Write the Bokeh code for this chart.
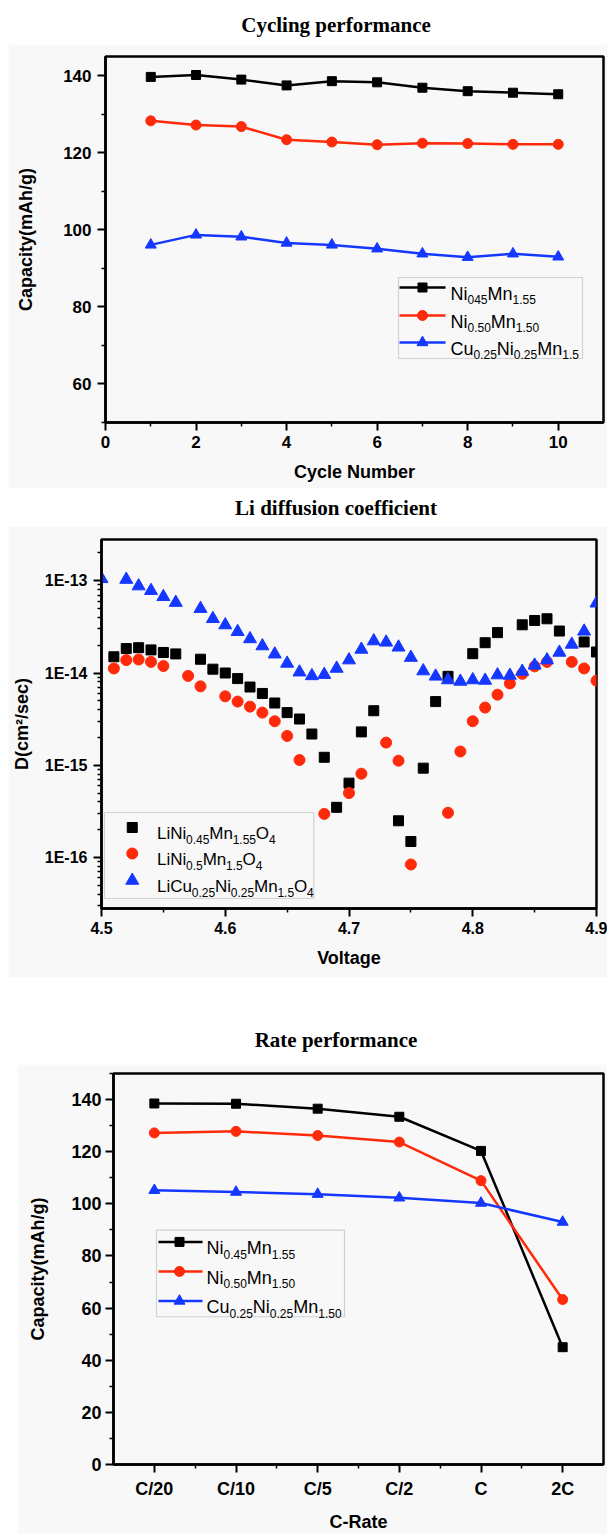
import math
from bokeh.plotting import figure
from bokeh.layouts import column, row
from bokeh.models import Range1d, FixedTicker, CustomJSTickFormatter, Spacer, BoxAnnotation
from bokeh.core.properties import value
from bokeh.embed import file_html
from bokeh.resources import INLINE

# ---------------- data ----------------
# Cycling performance
cycles = [1, 2, 3, 4, 5, 6, 7, 8, 9, 10]
cyc_ni045 = [139.7, 140.2, 139.0, 137.5, 138.6, 138.3, 136.9, 136.0, 135.6, 135.2]
cyc_ni050 = [128.3, 127.2, 126.8, 123.4, 122.8, 122.1, 122.5, 122.4, 122.2, 122.2]
cyc_cu = [96.1, 98.7, 98.2, 96.6, 96.1, 95.1, 93.8, 92.9, 93.8, 93.0]
cyc_labels = [
    [("Ni", 0), ("045", 1), ("Mn", 0), ("1.55", 1)],
    [("Ni", 0), ("0.50", 1), ("Mn", 0), ("1.50", 1)],
    [("Cu", 0), ("0.25", 1), ("Ni", 0), ("0.25", 1), ("Mn", 0), ("1.5", 1)],
]

# Li diffusion coefficient
v_ni045 = [4.51, 4.52, 4.53, 4.54, 4.55, 4.56, 4.58, 4.59, 4.60, 4.61, 4.62, 4.63, 4.64, 4.65,
           4.66, 4.67, 4.68, 4.69, 4.70, 4.71, 4.72, 4.74, 4.75, 4.76, 4.77, 4.78, 4.80, 4.81,
           4.82, 4.84, 4.85, 4.86, 4.87, 4.89, 4.90]
d_ni045 = [1.5e-14, 1.84e-14, 1.88e-14, 1.78e-14, 1.67e-14, 1.61e-14, 1.41e-14, 1.10e-14, 1.0e-14,
           8.7e-15, 7.05e-15, 6.0e-15, 4.73e-15, 3.72e-15, 3.17e-15, 2.18e-15, 1.22e-15, 3.5e-16,
           6.4e-16, 2.3e-15, 3.9e-15, 2.5e-16, 1.49e-16, 9.3e-16, 4.9e-15, 9.2e-15, 1.62e-14,
           2.13e-14, 2.74e-14, 3.33e-14, 3.71e-14, 3.87e-14, 2.85e-14, 2.17e-14, 1.69e-14]
v_ni050 = [4.51, 4.52, 4.53, 4.54, 4.55, 4.57, 4.58, 4.60, 4.61, 4.62, 4.63, 4.64, 4.65, 4.66,
           4.68, 4.70, 4.71, 4.73, 4.74, 4.75, 4.78, 4.79, 4.80, 4.81, 4.82, 4.83, 4.84, 4.85,
           4.86, 4.88, 4.89, 4.90]
d_ni050 = [1.12e-14, 1.38e-14, 1.40e-14, 1.32e-14, 1.19e-14, 9.3e-15, 7.17e-15, 5.59e-15, 4.9e-15,
           4.32e-15, 3.72e-15, 3.0e-15, 2.08e-15, 1.14e-15, 2.97e-16, 5.0e-16, 8.1e-16, 1.76e-15,
           1.12e-15, 8.4e-17, 3.05e-16, 1.41e-15, 3.0e-15, 4.22e-15, 5.82e-15, 7.7e-15, 9.8e-15,
           1.18e-14, 1.32e-14, 1.32e-14, 1.12e-14, 8.26e-15]
v_cu = [4.50, 4.52, 4.53, 4.54, 4.55, 4.56, 4.58, 4.59, 4.60, 4.61, 4.62, 4.63, 4.64, 4.65,
        4.66, 4.67, 4.68, 4.69, 4.70, 4.71, 4.72, 4.73, 4.74, 4.75, 4.76, 4.77, 4.78, 4.79,
        4.80, 4.81, 4.82, 4.83, 4.84, 4.85, 4.86, 4.87, 4.88, 4.89, 4.90]
d_cu = [1.05e-13, 1.03e-13, 8.75e-14, 7.8e-14, 6.7e-14, 5.8e-14, 4.98e-14, 3.87e-14, 3.31e-14,
        2.8e-14, 2.34e-14, 1.96e-14, 1.6e-14, 1.27e-14, 1.02e-14, 9.3e-15, 9.6e-15, 1.12e-14,
        1.38e-14, 1.8e-14, 2.22e-14, 2.15e-14, 1.9e-14, 1.47e-14, 1.05e-14, 9.2e-15, 8.4e-15,
        8.1e-15, 8.4e-15, 8.3e-15, 9.5e-15, 9.4e-15, 1.04e-14, 1.21e-14, 1.38e-14, 1.67e-14,
        2.04e-14, 2.83e-14, 5.7e-14]
dif_labels = [
    [("LiNi", 0), ("0.45", 1), ("Mn", 0), ("1.55", 1), ("O", 0), ("4", 1)],
    [("LiNi", 0), ("0.5", 1), ("Mn", 0), ("1.5", 1), ("O", 0), ("4", 1)],
    [("LiCu", 0), ("0.25", 1), ("Ni", 0), ("0.25", 1), ("Mn", 0), ("1.5", 1), ("O", 0), ("4", 1)],
]

# Rate performance
rates = ["C/20", "C/10", "C/5", "C/2", "C", "2C"]
rate_ni045 = [138.5, 138.4, 136.5, 133.4, 120.3, 45.0]
rate_ni050 = [127.2, 127.8, 126.2, 123.7, 108.9, 63.3]
rate_cu = [105.2, 104.5, 103.7, 102.3, 100.3, 93.0]
rate_labels = [
    [("Ni", 0), ("0.45", 1), ("Mn", 0), ("1.55", 1)],
    [("Ni", 0), ("0.50", 1), ("Mn", 0), ("1.50", 1)],
    [("Cu", 0), ("0.25", 1), ("Ni", 0), ("0.25", 1), ("Mn", 0), ("1.50", 1)],
]

# ---------------- style ----------------
BLACK = "#000000"
RED = "#ff2a0a"
BLUE = "#1438ff"
BG = "#f8f8f8"
SANS = "Liberation Sans"
SERIF = "Liberation Serif"

W = {"L": 556, "i": 222, "N": 722, "M": 833, "n": 556, "O": 778, "C": 722, "u": 556, ".": 278}


def text_w(s, fs):
    return sum(W.get(ch, 556) for ch in s) * fs / 1000.0


def title_fig(text, height, left, top):
    t = figure(width=607, height=height, toolbar_location=None, output_backend="svg",
               title=text, x_axis_location=None, y_axis_location=None,
               min_border_left=left, min_border_right=0, min_border_top=top, min_border_bottom=0,
               x_range=Range1d(0, 1), y_range=Range1d(0, 1))
    t.grid.visible = False
    t.outline_line_color = None
    t.border_fill_color = "white"
    t.background_fill_color = "white"
    t.title.text_font = SERIF
    t.title.text_font_style = "bold"
    t.title.text_font_size = "21px"
    t.title.align = "center"
    t.title.text_color = "black"
    return t


def style_fig(p, lab_fs="17px", title_fs="18px"):
    p.grid.visible = False
    p.border_fill_color = BG
    p.background_fill_color = BG
    p.outline_line_color = "black"
    p.outline_line_width = 2.5
    for ax in (p.xaxis[0], p.yaxis[0]):
        ax.axis_line_width = 2.5
        ax.axis_line_color = "black"
        ax.major_tick_line_width = 2
        ax.minor_tick_line_width = 1.5
        ax.major_tick_out = 8
        ax.major_tick_in = 0
        ax.minor_tick_out = 4
        ax.minor_tick_in = 0
        ax.major_label_text_font = SANS
        ax.major_label_text_font_style = "bold"
        ax.major_label_text_font_size = lab_fs
        ax.major_label_text_color = "black"
        ax.axis_label_text_font = SANS
        ax.axis_label_text_font_style = "bold"
        ax.axis_label_text_font_size = title_fs
        ax.axis_label_text_color = "black"


def make_legend(p, mapx, mapy, box, entries, line_x, mark_x, text_x, fs, sfs, drop, with_line=True):
    l, t, r, b = box
    p.add_layout(BoxAnnotation(left=mapx(l), right=mapx(r), top=mapy(t), bottom=mapy(b),
                               fill_color=BG, fill_alpha=1, line_color="#7a7a7a", line_width=1.2,
                               level="underlay"))
    for (ey, color, marker, msize, parts) in entries:
        if with_line:
            p.line([mapx(line_x[0]), mapx(line_x[1])], [mapy(ey), mapy(ey)], line_color=color, line_width=2.5)
        p.scatter([mapx(mark_x)], [mapy(ey)], marker=marker, size=msize, color=color)
        cx = text_x
        base = ey + fs * 0.36
        for s, sub in parts:
            f = sfs if sub else fs
            yb = base + (drop if sub else 0)
            p.text(x=[mapx(cx)], y=[mapy(yb)], text=[s], text_font=value(SANS),
                   text_font_size=f"{f}px", text_baseline="alphabetic", text_align="left",
                   text_color="black")
            cx += text_w(s, f)


# ---------------- panel 1: cycling ----------------
X1 = (0, 11)
Y1 = (50, 145)
FW1, FH1 = 498, 366
p1 = figure(width=599, height=444, toolbar_location=None, output_backend="svg",
            x_range=Range1d(*X1), y_range=Range1d(*Y1),
            min_border_left=97, min_border_right=4, min_border_top=12, min_border_bottom=66)
style_fig(p1)
p1.xaxis.ticker = FixedTicker(ticks=[0, 2, 4, 6, 8, 10], minor_ticks=[1, 3, 5, 7, 9])
p1.yaxis.ticker = FixedTicker(ticks=[60, 80, 100, 120, 140], minor_ticks=[50, 70, 90, 110, 130])
p1.xaxis.axis_label = "Cycle Number"
p1.yaxis.axis_label = "Capacity(mAh/g)"
p1.xaxis.major_label_standoff = 5
p1.xaxis.axis_label_standoff = 11
p1.yaxis.major_label_standoff = 6
p1.yaxis.axis_label_standoff = 24
for ys, c, m, s in ((cyc_ni045, BLACK, "square", 9), (cyc_ni050, RED, "circle", 10), (cyc_cu, BLUE, "triangle", 11)):
    p1.line(cycles, ys, line_color=c, line_width=2.5)
    p1.scatter(cycles, ys, marker=m, size=s, color=c)

mx1 = lambda px: X1[0] + px / FW1 * (X1[1] - X1[0])
my1 = lambda py: Y1[1] - py / FH1 * (Y1[1] - Y1[0])
make_legend(p1, mx1, my1, (293, 221, 477, 302),
            [(231, BLACK, "square", 9, cyc_labels[0]), (259, RED, "circle", 10, cyc_labels[1]),
             (286, BLUE, "triangle", 11, cyc_labels[2])],
            (294, 340), 317, 345, 18, 12, 6)

# ---------------- panel 2: diffusion ----------------
X2 = (4.5, 4.9)
Y2 = (2.8e-17, 2.8e-13)
FW2, FH2 = 499, 369
p2 = figure(width=599, height=451, toolbar_location=None, output_backend="svg",
            x_range=Range1d(*X2), y_range=Range1d(*Y2), y_axis_type="log",
            min_border_left=89, min_border_right=11, min_border_top=13, min_border_bottom=69)
style_fig(p2, lab_fs="16px")
p2.xaxis.ticker = FixedTicker(ticks=[4.5, 4.6, 4.7, 4.8, 4.9], minor_ticks=[4.55, 4.65, 4.75, 4.85])
minor_log = [m * 10.0 ** e for e in range(-17, -12) for m in range(2, 10)]
p2.yaxis.ticker = FixedTicker(ticks=[1e-16, 1e-15, 1e-14, 1e-13], minor_ticks=minor_log)
p2.yaxis.formatter = CustomJSTickFormatter(code="return '1E' + Math.round(Math.log10(tick));")
p2.xaxis.axis_label = "Voltage"
p2.yaxis.axis_label = "D(cm²/sec)"
p2.xaxis.major_label_standoff = 5
p2.xaxis.axis_label_standoff = 11
p2.yaxis.major_label_standoff = 6
p2.yaxis.axis_label_standoff = 10
p2.scatter(v_ni045, d_ni045, marker="square", size=10, color=BLACK)
p2.scatter(v_ni050, d_ni050, marker="circle", size=11, color=RED)
p2.scatter(v_cu, d_cu, marker="triangle", size=13, color=BLUE)

mx2 = lambda px: X2[0] + px / FW2 * (X2[1] - X2[0])
ly0, ly1 = math.log10(Y2[0]), math.log10(Y2[1])
my2 = lambda py: 10 ** (ly1 - py / FH2 * (ly1 - ly0))
make_legend(p2, mx2, my2, (3, 273, 214, 359),
            [(288, BLACK, "square", 10, dif_labels[0]), (314, RED, "circle", 11, dif_labels[1]),
             (341, BLUE, "triangle", 13, dif_labels[2])],
            (0, 0), 31, 56, 17, 12, 5.5, with_line=False)

# ---------------- panel 3: rate ----------------
X3 = (0.5, 6.5)
Y3 = (0, 150)
FW3, FH3 = 490, 397
xr = list(range(1, len(rates) + 1))
p3 = figure(width=590, height=470, toolbar_location=None, output_backend="svg",
            x_range=Range1d(*X3), y_range=Range1d(*Y3),
            min_border_left=96, min_border_right=4, min_border_top=9, min_border_bottom=64)
style_fig(p3, lab_fs="18px")
p3.xaxis.ticker = FixedTicker(ticks=xr, minor_ticks=[1.5, 2.5, 3.5, 4.5, 5.5])
p3.xaxis.major_label_overrides = {i: r for i, r in zip(xr, rates)}
p3.yaxis.ticker = FixedTicker(ticks=[0, 20, 40, 60, 80, 100, 120, 140],
                              minor_ticks=[10, 30, 50, 70, 90, 110, 130, 150])
p3.xaxis.axis_label = "C-Rate"
p3.yaxis.axis_label = "Capacity(mAh/g)"
p3.xaxis.major_label_standoff = 6
p3.xaxis.axis_label_standoff = 10
p3.yaxis.major_label_standoff = 4
p3.yaxis.axis_label_standoff = 20
for ys, c, m, s in ((rate_ni045, BLACK, "square", 9), (rate_ni050, RED, "circle", 10), (rate_cu, BLUE, "triangle", 11)):
    p3.line(xr, ys, line_color=c, line_width=2.5)
    p3.scatter(xr, ys, marker=m, size=s, color=c)

mx3 = lambda px: X3[0] + px / FW3 * (X3[1] - X3[0])
my3 = lambda py: Y3[1] - py / FH3 * (Y3[1] - Y3[0])
make_legend(p3, mx3, my3, (43, 159, 231, 247),
            [(171, BLACK, "square", 9, rate_labels[0]), (201, RED, "circle", 10, rate_labels[1]),
             (231, BLUE, "triangle", 11, rate_labels[2])],
            (45, 89), 66, 93, 18, 12, 6)

# ---------------- layout ----------------
t1 = title_fig("Cycling performance", 39, 60, 14)
t2 = title_fig("Li diffusion coefficient", 38, 30, 12)
t3 = title_fig("Rate performance", 44, 64, 8)

layout = column(
    Spacer(width=607, height=5),
    t1,
    row(Spacer(width=8, height=444), p1),
    t2,
    row(Spacer(width=8, height=451), p2),
    Spacer(width=607, height=43),
    t3,
    row(Spacer(width=17, height=470), p3),
    spacing=0,
)

with open("out.html", "w") as f:
    f.write(file_html(layout, INLINE, title="charts"))
